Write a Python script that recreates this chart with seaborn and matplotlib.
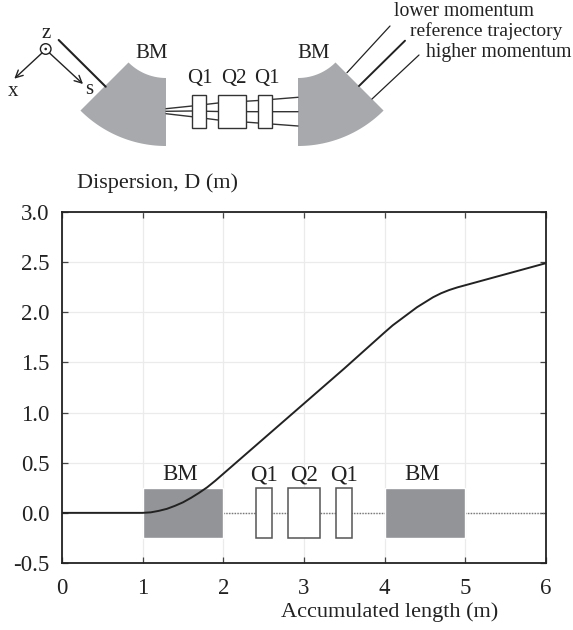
import numpy as np
import pandas as pd
import matplotlib
matplotlib.use("Agg")
import matplotlib.pyplot as plt
from matplotlib.patches import Polygon, Rectangle, Circle
import seaborn as sns

# curve
s_pos = [0, 0.5, 1.0, 1.1, 1.2, 1.3, 1.4, 1.5, 1.6, 1.7, 1.8, 1.9, 2.0, 2.5, 3.0, 3.5, 4.0, 4.1, 4.2, 4.3, 4.4, 4.5, 4.6, 4.7, 4.8, 4.9, 5.0, 5.5, 6.0]
dispersion = [0, 0, 0, 0.005, 0.02, 0.04, 0.07, 0.105, 0.15, 0.2, 0.255, 0.32, 0.39, 0.74, 1.09, 1.44, 1.80, 1.87, 1.93, 1.99, 2.05, 2.10, 2.15, 2.19, 2.222, 2.248, 2.27, 2.38, 2.49]

# lattice elements
bm_start = [1, 4]
bm_width = [1, 1]
quad_start = [2.4, 2.8, 3.4]
quad_width = [0.2, 0.4, 0.2]
elem_low = -0.25
elem_high = 0.25
elem_labels = [("BM", 1.47), ("Q1", 2.5), ("Q2", 3.0), ("Q1", 3.5), ("BM", 4.47)]

x_ticks = [0, 1, 2, 3, 4, 5, 6]
y_ticks = [-0.5, 0.0, 0.5, 1.0, 1.5, 2.0, 2.5, 3.0]

sns.set_style("white")
plt.rcParams['font.family'] = ['Liberation Serif', 'DejaVu Serif']

W, H = 573, 630
fig = plt.figure(figsize=(W / 100, H / 100), dpi=100)
ax = fig.add_axes([62 / W, (H - 563) / H, 484 / W, 351 / H])

df = pd.DataFrame({"s": s_pos, "D": dispersion})

ax.grid(True, color="#ebebeb", lw=0.9)
ax.set_axisbelow(True)
ax.plot([2, 6], [0, 0], color="#777777", lw=1, ls=(0, (1, 1)), zorder=1)
ax.bar(bm_start, elem_high - elem_low, width=bm_width, bottom=elem_low, align="edge", color="#929497", zorder=2)
ax.bar(quad_start, elem_high - elem_low, width=quad_width, bottom=elem_low, align="edge",
       facecolor="white", edgecolor="#555555", lw=1.1, zorder=2)
sns.lineplot(data=df, x="s", y="D", color="#222222", lw=1.4, ax=ax, zorder=3)

for lab, xp in elem_labels:
    ax.text(xp, 0.38, lab, ha="center", va="center", fontsize=16.5, color="#222222")

ax.set_xlim(0, 6)
ax.set_ylim(-0.5, 3.0)
ax.set_xticks(x_ticks)
ax.set_yticks(y_ticks)
ax.set_yticklabels([f"{v:.1f}" for v in y_ticks])
ax.set_xlabel("")
ax.set_ylabel("")
ax.tick_params(axis="both", which="both", direction="in", length=4, width=0.9, color="#444444",
               top=True, right=True, bottom=True, left=True, labelsize=16.5, labelcolor="#222222")
ax.tick_params(axis="x", pad=11)
ax.tick_params(axis="y", pad=9)
for sp in ax.spines.values():
    sp.set_color("#222222")
    sp.set_linewidth(1.3)

# schematic on top, in pixel coordinates of the page
ov = fig.add_axes([0, 0, 1, 1], facecolor="none")
ov.set_xlim(0, W)
ov.set_ylim(H, 0)
ov.axis("off")


def sector(cx, cy, r_in, r_out, a0, a1):
    a = np.radians(np.linspace(a0, a1, 40))
    outer = np.c_[cx + r_out * np.cos(a), cy + r_out * np.sin(a)]
    inner = np.c_[cx + r_in * np.cos(a[::-1]), cy + r_in * np.sin(a[::-1])]
    return np.vstack([outer, inner])


ov.add_patch(Polygon(sector(166, 25, 53, 121, 90, 135), closed=True, color="#a7a9ac", lw=0))
ov.add_patch(Polygon(sector(298, 25, 53, 121, 45, 90), closed=True, color="#a7a9ac", lw=0))

beam_x = [166, 192, 218, 258, 298]
beam_upper = [108.7, 106, 103, 100.5, 97.3]
beam_mid = [111.3, 111, 111.5, 111.7, 111.7]
beam_lower = [113.7, 116.7, 120, 123, 126]
for yy in (beam_upper, beam_mid, beam_lower):
    ov.plot(beam_x, yy, color="#333333", lw=1.0, zorder=2)

sketch_quads = [(192, 14), (218.3, 27.4), (258.3, 14)]
for qx, qw in sketch_quads:
    ov.add_patch(Rectangle((qx, 95), qw, 33, facecolor="white", edgecolor="#333333", lw=1.0, zorder=3))

rays = [((347, 72.7), (390, 26), 0.9), ((359, 86), (405, 40.7), 1.4), ((372, 99), (419, 55), 0.9)]
for p0, p1, lw in rays:
    ov.plot([p0[0], p1[0]], [p0[1], p1[1]], color="#222222", lw=lw)
ov.plot([58.7, 105.7], [40, 86.7], color="#222222", lw=1.5)

ov.add_patch(Circle((45.7, 49), 5.3, facecolor="white", edgecolor="#222222", lw=1.0))
ov.add_patch(Circle((45.7, 49), 1.3, color="#222222", lw=0))
arrow = dict(arrowstyle="->", color="#222222", lw=1.0, shrinkA=0, shrinkB=0, mutation_scale=13)
ov.annotate("", xy=(14.3, 78.7), xytext=(42, 53), arrowprops=arrow)
ov.annotate("", xy=(83, 84), xytext=(49.5, 53), arrowprops=arrow)

page_text = [
    ("z", 46, 34, "center", 15), ("x", 12.7, 91, "center", 15), ("s", 88.7, 89.5, "center", 15),
    ("BM", 151.7, 53, "center", 15), ("BM", 314, 53, "center", 15),
    ("Q1", 200, 79, "center", 15), ("Q2", 234, 79, "center", 15), ("Q1", 266.7, 79, "center", 15),
    ("lower momentum", 394, 11, "left", 14.2),
    ("reference trajectory", 410, 31, "left", 14),
    ("higher momentum", 426, 53, "left", 14.2),
    ("Dispersion, D (m)", 77, 183, "left", 16),
    ("Accumulated length (m)", 281, 612, "left", 16),
]
for txt, tx, ty, ha, fs in page_text:
    ov.text(tx, ty, txt, ha=ha, va="center", fontsize=fs, color="#222222")

fig.savefig("out.png", dpi=100)
